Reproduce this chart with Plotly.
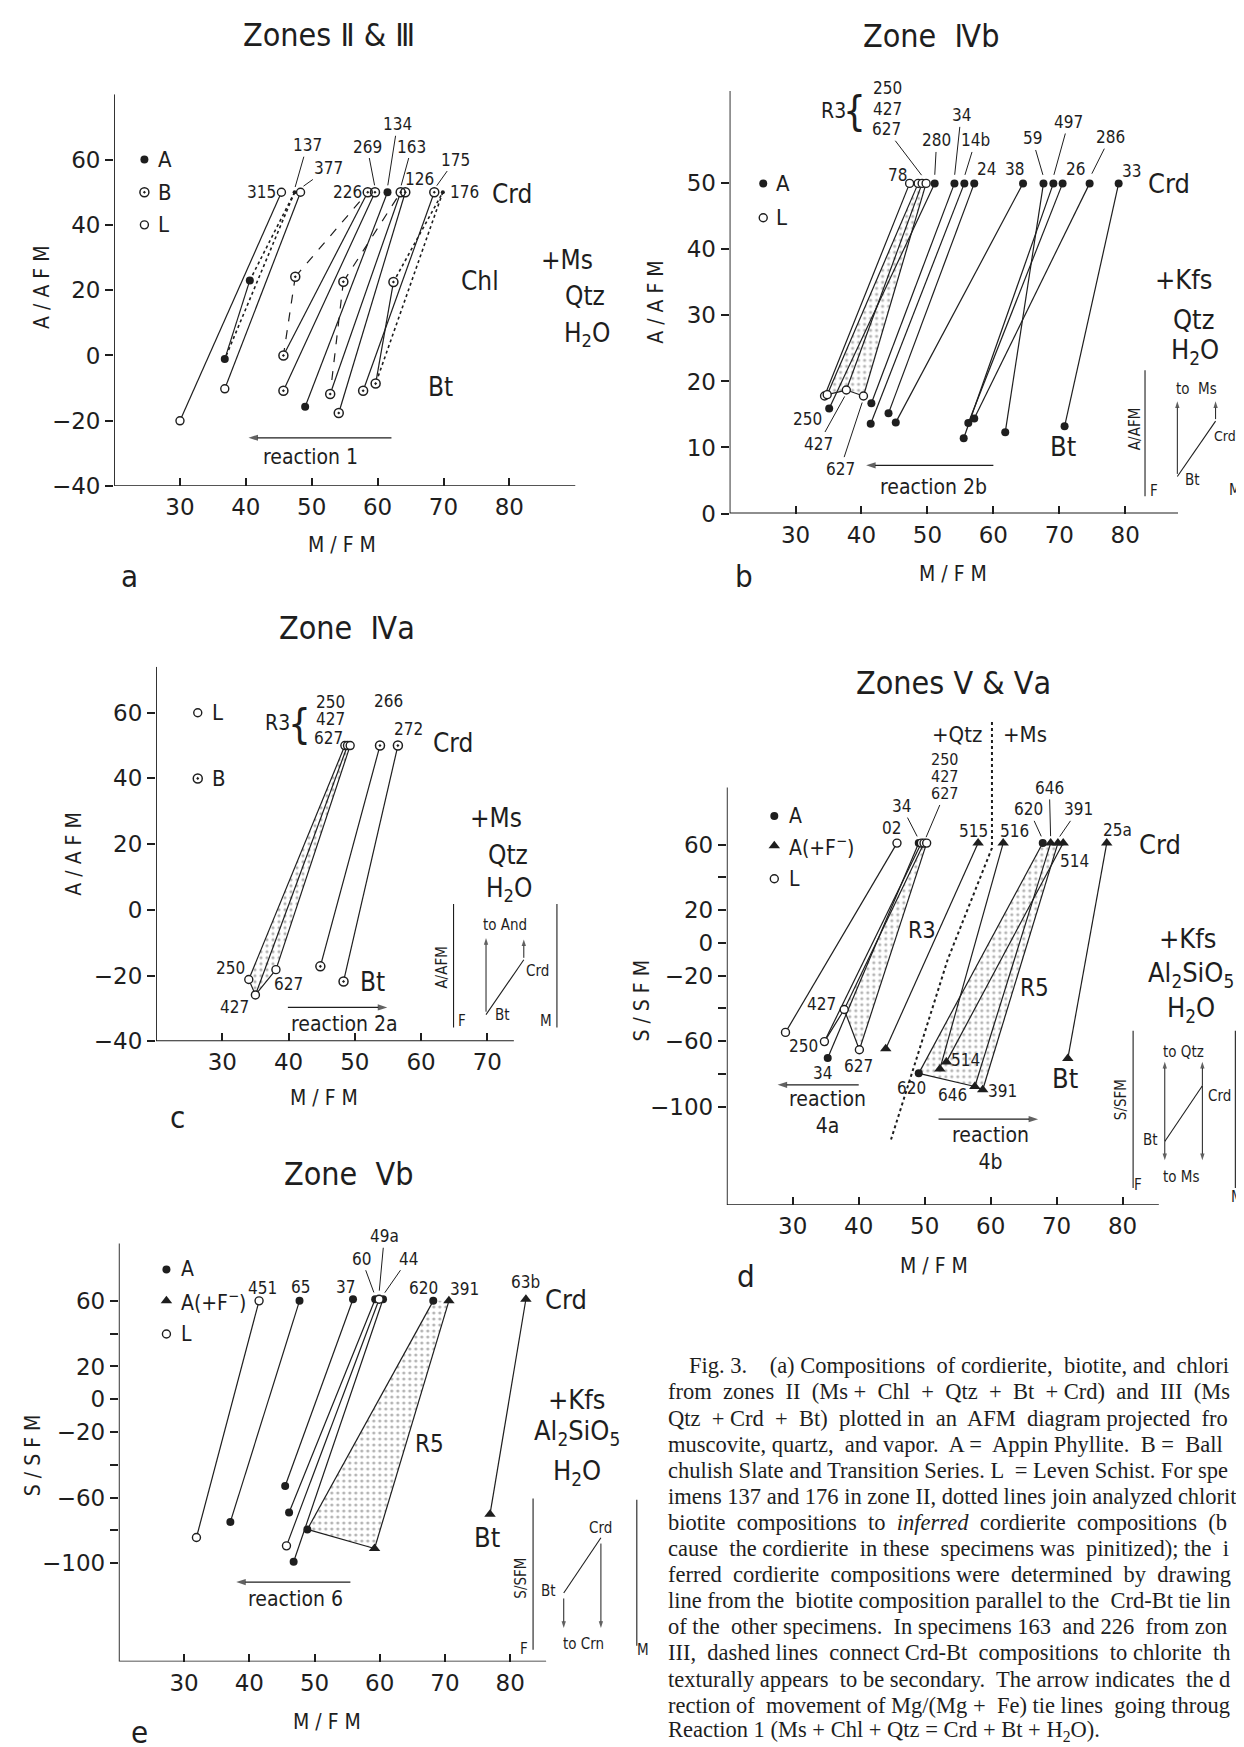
import re
import plotly.graph_objects as go

W, H = 1244, 1747
INK = "#1e1e1e"
LET = "Liberation Sans Narrow, DejaVu Sans Condensed, Arial Narrow, sans-serif"
TICKF = "DejaVu Sans, Liberation Sans, sans-serif"
SERIF = "Liberation Serif, DejaVu Serif, serif"

# ======================= DATA =======================
# ---- Panel a : Zones II & III (A/AFM vs M/FM) ----
a_crd_label = ["315", "137", "377", "226", "269", "134", "163", "126", "175", "176"]
a_crd_x = [45.4, 47.4, 48.3, 58.5, 59.6, 61.5, 63.5, 64.2, 68.6, 69.9]
a_crd_y = [50, 50, 50, 50, 50, 50, 50, 50, 50, 50]
a_crd_kind = ["L", "inf", "L", "B", "B", "A", "B", "B", "B", "inf"]
a_bt_x = [30.0, 36.8, 36.8, 45.7, 45.7, 49.0, 52.8, 54.1, 57.8, 59.7]
a_bt_y = [-20.0, -1.1, -10.2, 0.0, -10.8, -15.7, -11.8, -17.6, -10.8, -8.6]
a_bt_kind = ["L", "A", "L", "B", "B", "A", "B", "B", "B", "B"]
a_tie_dash = ["solid", "dot", "solid", "solid", "solid", "solid", "solid", "solid", "solid", "dot"]
a_chl_of = ["137", "226", "163", "176"]
a_chl_x = [40.6, 47.5, 54.8, 62.4]
a_chl_y = [23.0, 24.1, 22.6, 22.5]
a_chl_kind = ["A", "B", "B", "B"]
a_chl_crd_dash = ["dot", "dash", "dash", "dot"]
a_chl_bt_dash = ["solid", "dash", "dash", "solid"]

# ---- Panel b : Zone IVb ----
b_crd_label = ["78", "250", "427", "627", "280", "34", "14b", "24", "38", "59", "497", "26", "286", "33"]
b_crd_x = [47.3, 48.6, 49.2, 49.8, 51.1, 54.1, 55.6, 57.1, 64.5, 67.6, 69.1, 70.5, 74.6, 79.0]
b_crd_y = [50, 50, 50, 50, 50, 50, 50, 50, 50, 50, 50, 50, 50, 50]
b_kind = ["L", "L", "L", "L", "A", "A", "A", "A", "A", "A", "A", "A", "A", "A"]
b_bt_x = [34.4, 34.8, 37.7, 40.3, 35.1, 41.5, 41.4, 44.1, 45.2, 61.8, 55.5, 56.2, 57.1, 70.8]
b_bt_y = [17.8, 18.0, 18.7, 17.8, 15.9, 16.7, 13.6, 15.2, 13.8, 12.3, 11.4, 13.7, 14.4, 13.2]
b_r3 = ["250", "427", "627"]

# ---- Panel c : Zone IVa ----
c_crd_label = ["250", "427", "627", "266", "272"]
c_crd_x = [48.5, 48.9, 49.3, 53.8, 56.5]
c_crd_y = [50, 50, 50, 50, 50]
c_kind = ["L", "L", "L", "B", "B"]
c_bt_x = [34.0, 35.0, 38.1, 44.8, 48.3]
c_bt_y = [-21.2, -25.9, -18.2, -17.2, -21.8]
c_r3 = ["250", "427", "627"]

# ---- Panel d : Zones V & Va (S/SFM vs M/FM) ----
d_crd_label = ["02", "34", "250", "427", "627", "515", "516", "620", "646", "391", "514", "25a"]
d_crd_x = [45.8, 49.1, 49.5, 49.9, 50.3, 58.1, 61.9, 67.9, 69.1, 70.2, 71.0, 77.6]
d_crd_y = [61, 61, 61, 61, 61, 61, 61, 61, 61, 61, 61, 61]
d_kind = ["L", "A", "L", "L", "L", "F", "F", "A", "F", "F", "F", "F"]
d_bt_x = [28.9, 35.3, 34.8, 37.8, 40.1, 44.1, 52.3, 49.1, 57.6, 58.8, 53.3, 71.7]
d_bt_y = [-54.6, -70.2, -60.2, -40.6, -65.2, -64.6, -77.0, -79.6, -87.6, -89.6, -72.6, -70.6]
d_r3 = ["250", "427", "627"]
d_r5 = ["620", "646", "391"]
d_sep_x = [60.2, 60.2, 53.5, 44.9]
d_sep_y = [135, 58, -10, -120]

# ---- Panel e : Zone Vb ----
e_crd_label = ["451", "65", "37", "60", "49a", "44", "620", "391", "63b"]
e_crd_x = [41.5, 47.7, 55.9, 59.3, 59.9, 60.5, 68.2, 70.6, 82.4]
e_crd_y = [60, 60, 61, 61, 61, 61, 60, 60, 61]
e_kind = ["L", "A", "A", "A", "L", "A", "A", "F", "F"]
e_bt_x = [31.9, 37.1, 45.5, 46.1, 45.7, 46.8, 48.9, 59.2, 76.9]
e_bt_y = [-84.3, -74.8, -52.9, -69.1, -89.4, -99.1, -79.4, -91.0, -70.1]
e_r5 = ["620", "391"]

# tick values
afm_x_ticks = [30, 40, 50, 60, 70, 80]
a_y_ticks = [60, 40, 20, 0, -20, -40]
b_y_ticks = [50, 40, 30, 20, 10, 0]
c_x_ticks = [30, 40, 50, 60, 70]
c_y_ticks = [60, 40, 20, 0, -20, -40]
s_y_ticks = [60, 40, 20, 0, -20, -40, -60, -80, -100]
s_y_text = ["60", "", "20", "0", "\u221220", "", "\u221260", "", "\u2212100"]

caption_lines = [
    "Fig. 3.   (a) Compositions of cordierite, biotite, and chlori",
    "from zones II (Ms + Chl + Qtz + Bt + Crd) and III (Ms",
    "Qtz + Crd + Bt) plotted in an AFM diagram projected fro",
    "muscovite, quartz, and vapor. A = Appin Phyllite. B = Ball",
    "chulish Slate and Transition Series. L = Leven Schist. For spe",
    "imens 137 and 176 in zone II, dotted lines join analyzed chlorit",
    "biotite compositions to <i>inferred</i> cordierite compositions (b",
    "cause the cordierite in these specimens was pinitized); the i",
    "ferred cordierite compositions were determined by drawing",
    "line from the biotite composition parallel to the Crd-Bt tie lin",
    "of the other specimens. In specimens 163 and 226 from zon",
    "III, dashed lines connect Crd-Bt compositions to chlorite th",
    "texturally appears to be secondary. The arrow indicates the d",
    "rection of movement of Mg/(Mg + Fe) tie lines going throug",
    "Reaction 1 (Ms + Chl + Qtz = Crd + Bt + H<sub>2</sub>O).",
]

# ======================= LAYOUT GEOMETRY =======================
GEOM = {
    "a": dict(xv=20, xp=106.1, xs=6.588, xr=(20, 97), yv=60, yp=152.7, ys=3.29, yr=(-40, 80), xend=90, ytop=80),
    "b": dict(xv=20, xp=721.6, xs=6.594, xr=(20, 99), yv=0, yp=509.3, ys=6.652, yr=(0, 70), xend=88, ytop=64),
    "c": dict(xv=20, xp=148.0, xs=6.627, xr=(20, 82), yv=-40, yp=1041, ys=3.31, yr=(-40, 74), xend=74, ytop=74),
    "d": dict(xv=20, xp=718.8, xs=6.596, xr=(20, 99), yv=-160, yp=1206, ys=1.65, yr=(-160, 140), xend=85.5, ytop=95),
    "e": dict(xv=20, xp=110.8, xs=6.524, xr=(20, 103), yv=-160, yp=1666, ys=1.652, yr=(-160, 102), xend=85.5, ytop=95),
}
PANELS = ["a", "b", "c", "d", "e"]


def axid(p):
    i = PANELS.index(p) + 1
    return ("x" if i == 1 else f"x{i}"), ("y" if i == 1 else f"y{i}")


fig = go.Figure()
ANN = []

MK = {
    "A": dict(symbol="circle", size=8, color=INK, line=dict(width=0)),
    "B": dict(symbol="circle-open-dot", size=9, color=INK, line=dict(width=1.5, color=INK)),
    "L": dict(symbol="circle", size=8, color="white", line=dict(width=1.4, color=INK)),
    "F": dict(symbol="triangle-up", size=10, color=INK, line=dict(width=0)),
    "inf": dict(symbol="circle", size=4, color=INK, line=dict(width=0)),
}


def add_points(p, xs, ys, kinds):
    xa, ya = axid(p)
    bx = [x for x, k in zip(xs, kinds) if k == "B"]
    by = [y for y, k in zip(ys, kinds) if k == "B"]
    if bx:
        fig.add_trace(go.Scatter(x=bx, y=by, mode="markers", xaxis=xa, yaxis=ya, hoverinfo="skip",
                                 marker=dict(symbol="circle", size=9, color="white", line=dict(width=0))))
    for k in ["A", "B", "L", "F", "inf"]:
        px = [x for x, kk in zip(xs, kinds) if kk == k]
        py = [y for y, kk in zip(ys, kinds) if kk == k]
        if px:
            fig.add_trace(go.Scatter(x=px, y=py, mode="markers", xaxis=xa, yaxis=ya, hoverinfo="skip",
                                     marker=MK[k], cliponaxis=False))


def add_segments(p, x0s, y0s, x1s, y1s, dash="solid", width=1.2):
    xa, ya = axid(p)
    X, Y = [], []
    for a, b, c, d in zip(x0s, y0s, x1s, y1s):
        X += [a, c, None]
        Y += [b, d, None]
    fig.add_trace(go.Scatter(x=X, y=Y, mode="lines", xaxis=xa, yaxis=ya, hoverinfo="skip",
                             line=dict(color=INK, width=width, dash=dash)))


def add_poly(p, xs, ys, width=1.2, dash="solid"):
    xa, ya = axid(p)
    fig.add_trace(go.Scatter(x=xs, y=ys, mode="lines", xaxis=xa, yaxis=ya, hoverinfo="skip",
                             line=dict(color=INK, width=width, dash=dash)))


def add_stipple(p, xs, ys):
    xa, ya = axid(p)
    fig.add_trace(go.Scatter(x=xs + [xs[0]], y=ys + [ys[0]], mode="lines", fill="toself", xaxis=xa, yaxis=ya,
                             hoverinfo="skip", line=dict(width=0, color="rgba(0,0,0,0)"),
                             fillcolor="white",
                             fillpattern=dict(shape=".", fgcolor="#6a6a6a", bgcolor="white", size=6, solidity=0.22)))


def arrow(p, x0, y0, x1, y1, width=1.3, size=10):
    xa, ya = axid(p)
    fig.add_trace(go.Scatter(x=[x0, x1], y=[y0, y1], mode="lines+markers", xaxis=xa, yaxis=ya, hoverinfo="skip",
                             cliponaxis=False, line=dict(color=INK, width=width),
                             marker=dict(symbol=["circle", "arrow"], size=[0, size], color=INK,
                                         angleref="previous", line=dict(width=0))))


def txt(p, s, x, y, size=17, xanchor="center", yanchor="middle", angle=0, family=LET):
    xa, ya = axid(p)
    ANN.append(dict(text=s, x=x, y=y, xref=xa, yref=ya, showarrow=False, xanchor=xanchor, yanchor=yanchor,
                    textangle=angle, font=dict(family=family, size=size, color=INK)))


def lead(p, s, tx, ty, px, py, size=17):
    xa, ya = axid(p)
    ANN.append(dict(text=s, x=px, y=py, ax=tx, ay=ty, xref=xa, yref=ya, axref=xa, ayref=ya, showarrow=True,
                    arrowhead=0, arrowwidth=1, arrowcolor=INK, standoff=2,
                    font=dict(family=LET, size=size, color=INK)))


def ptxt(s, px, py, size, angle=0, family=LET, xanchor="center"):
    ANN.append(dict(text=s, x=px / W, y=1 - py / H, xref="paper", yref="paper", showarrow=False,
                    xanchor=xanchor, yanchor="middle", textangle=angle,
                    font=dict(family=family, size=size, color=INK)))


def idx(labels, name):
    return labels.index(name)


# Times-compatible advance widths (per 1000 em) used to justify the caption block
_TW = {" ": 250, "(": 333, ")": 333, "+": 564, ",": 250, "-": 333, ".": 250, "/": 278, ":": 278, ";": 278,
       "=": 564, "A": 722, "B": 667, "C": 667, "D": 722, "E": 611, "F": 556, "G": 722, "H": 722, "I": 333,
       "J": 389, "K": 722, "L": 611, "M": 889, "N": 722, "O": 722, "P": 556, "Q": 722, "R": 667, "S": 556,
       "T": 611, "U": 722, "V": 722, "W": 944, "X": 722, "Y": 722, "Z": 611, "a": 444, "b": 500, "c": 444,
       "d": 500, "e": 444, "f": 333, "g": 500, "h": 500, "i": 278, "j": 278, "k": 500, "l": 278, "m": 778,
       "n": 500, "o": 500, "p": 500, "q": 500, "r": 333, "s": 389, "t": 278, "u": 500, "v": 500, "w": 722,
       "x": 500, "y": 500, "z": 444}


def justify(line, size, avail):
    plain = re.sub(r"<[^>]+>", "", line)
    w = 1.035 * sum(_TW.get(ch, 500) for ch in plain) * size / 1000.0
    sp = 1.035 * 250 * size / 1000.0
    n = int((avail - w) / sp)
    parts = re.split(r"( +)", line)
    gaps = [i for i, t in enumerate(parts) if t.startswith(" ")]
    if n <= 0 or not gaps:
        return line
    for j in range(n):
        parts[gaps[(j * len(gaps)) // n if n >= len(gaps) else int((j + 0.5) * len(gaps) / n)]] += " "
    return "".join(parts)


# ======================= PANEL a =======================
p = "a"
sol = [i for i in range(10) if a_tie_dash[i] == "solid"]
dot = [i for i in range(10) if a_tie_dash[i] == "dot"]
add_segments(p, [a_crd_x[i] for i in sol], [a_crd_y[i] for i in sol], [a_bt_x[i] for i in sol], [a_bt_y[i] for i in sol])
add_segments(p, [a_crd_x[i] for i in dot], [a_crd_y[i] for i in dot], [a_bt_x[i] for i in dot], [a_bt_y[i] for i in dot],
             dash="dot", width=1.6)
for j, spec in enumerate(a_chl_of):
    k = idx(a_crd_label, spec)
    add_segments(p, [a_chl_x[j]], [a_chl_y[j]], [a_crd_x[k]], [a_crd_y[k]], dash=a_chl_crd_dash[j],
                 width=1.6 if a_chl_crd_dash[j] == "dot" else 1.2)
    add_segments(p, [a_chl_x[j]], [a_chl_y[j]], [a_bt_x[k]], [a_bt_y[k]], dash=a_chl_bt_dash[j])
add_points(p, a_crd_x, a_crd_y, a_crd_kind)
add_points(p, a_bt_x, a_bt_y, a_bt_kind)
add_points(p, a_chl_x, a_chl_y, a_chl_kind)
add_points(p, [24.6, 24.6, 24.6], [60, 50, 40], ["A", "B", "L"])
for s, yy in zip(["A", "B", "L"], [60, 50, 40]):
    txt(p, s, 26.4, yy, size=22, xanchor="left")
for s, tx, ty, px_, py_ in [("137", 49.3, 64.4, 47.4, 51), ("377", 52.6, 57.4, 48.5, 51.5),
                            ("269", 58.4, 64.0, 59.6, 51.5), ("134", 63.0, 70.8, 61.5, 51.5),
                            ("163", 65.2, 64.0, 63.5, 51.5), ("175", 71.8, 60.0, 68.8, 51.5)]:
    lead(p, s, tx, ty, px_, py_)
for s, x, y in [("315", 42.4, 50), ("226", 55.5, 50), ("126", 66.4, 54.0), ("176", 73.2, 50.2)]:
    txt(p, s, x, y)
for s, x, y in [("Crd", 80.4, 49.5), ("Chl", 75.6, 22.7), ("Bt", 69.6, -9.7),
                ("+Ms", 88.8, 29.3), ("Qtz", 91.5, 18.2), ("H<sub>2</sub>O", 91.8, 6.3)]:
    txt(p, s, x, y, size=26)
arrow(p, 62.1, -25.2, 40.4, -25.2)
txt(p, "reaction 1", 49.8, -31.0, size=21)

# ======================= PANEL b =======================
p = "b"
r3i = [idx(b_crd_label, s) for s in b_r3]
add_stipple(p, [b_crd_x[r3i[0]]] + [b_bt_x[i] for i in r3i] + [b_crd_x[r3i[2]]],
            [b_crd_y[r3i[0]]] + [b_bt_y[i] for i in r3i] + [b_crd_y[r3i[2]]])
add_segments(p, b_crd_x, b_crd_y, b_bt_x, b_bt_y)
add_poly(p, [b_bt_x[i] for i in r3i], [b_bt_y[i] for i in r3i])
add_points(p, b_crd_x, b_crd_y, b_kind)
add_points(p, b_bt_x, b_bt_y, b_kind)
add_points(p, [25.1, 25.1], [50, 44.8], ["A", "L"])
for s, yy in zip(["A", "L"], [50, 44.8]):
    txt(p, s, 26.8, yy, size=22, xanchor="left")
txt(p, "R3", 35.8, 61.0, size=21)
txt(p, "{", 38.9, 61.0, size=40)
txt(p, "250", 44.0, 64.4)
txt(p, "427", 44.0, 61.3)
lead(p, "627", 43.8, 58.2, 49.3, 51)
for s, tx, ty, px_, py_ in [("280", 51.4, 56.5, 51.1, 51), ("34", 55.1, 60.3, 54.1, 51),
                            ("14b", 57.3, 56.5, 55.6, 51), ("59", 65.9, 56.8, 67.6, 51),
                            ("497", 71.4, 59.3, 69.1, 51), ("286", 77.7, 57.0, 74.8, 51.2)]:
    lead(p, s, tx, ty, px_, py_)
for s, x, y in [("78", 45.4, 51.3), ("24", 58.9, 52.2), ("38", 63.2, 52.2), ("26", 72.4, 52.2),
                ("33", 81.0, 51.9), ("250", 31.8, 14.3)]:
    txt(p, s, x, y)
lead(p, "427", 33.5, 10.6, 37.6, 18.0)
lead(p, "627", 36.8, 6.8, 40.2, 17.1)
for s, x, y in [("Crd", 86.6, 50.0), ("+Kfs", 88.8, 35.5), ("Qtz", 90.3, 29.4),
                ("H<sub>2</sub>O", 90.6, 24.5), ("Bt", 70.5, 10.1)]:
    txt(p, s, x, y, size=27)
arrow(p, 60.0, 7.3, 40.7, 7.3)
txt(p, "reaction 2b", 50.9, 4.0, size=21)
# inset
add_segments(p, [83.0, 98.5, 87.9], [2.6, 2.6, 5.6], [83.0, 98.5, 93.7], [21.7, 21.7, 14.0], width=1.1)
arrow(p, 87.9, 6.0, 87.9, 17.0, width=1.0, size=7)
arrow(p, 93.7, 14.3, 93.7, 17.0, width=1.0, size=7)
txt(p, "A/AFM", 81.5, 12.8, size=15, angle=-90)
txt(p, "F", 84.3, 3.4, size=15)
txt(p, "M", 96.6, 3.6, size=15)
txt(p, "Bt", 90.2, 5.1, size=15)
txt(p, "Crd", 95.1, 11.8, size=14)
txt(p, "to  Ms", 90.8, 18.9, size=15)

# ======================= PANEL c =======================
p = "c"
r3i = [idx(c_crd_label, s) for s in c_r3]
add_stipple(p, [c_crd_x[r3i[0]]] + [c_bt_x[i] for i in r3i] + [c_crd_x[r3i[2]]],
            [c_crd_y[r3i[0]]] + [c_bt_y[i] for i in r3i] + [c_crd_y[r3i[2]]])
add_segments(p, c_crd_x, c_crd_y, c_bt_x, c_bt_y)
add_poly(p, [c_bt_x[i] for i in r3i], [c_bt_y[i] for i in r3i])
add_points(p, c_crd_x, c_crd_y, c_kind)
add_points(p, c_bt_x, c_bt_y, c_kind)
add_points(p, [26.3, 26.3], [60, 40], ["L", "B"])
for s, yy in zip(["L", "B"], [60, 40]):
    txt(p, s, 28.2, yy, size=22, xanchor="left")
txt(p, "R3", 38.3, 56.9, size=21)
txt(p, "{", 41.7, 56.6, size=40)
for s, x, y in [("250", 46.3, 63.3), ("427", 46.3, 58.0), ("627", 46.1, 52.4), ("266", 55.1, 63.6),
                ("272", 58.1, 55.1), ("250", 31.2, -17.8), ("627", 40.0, -22.5), ("427", 31.8, -29.7)]:
    txt(p, s, x, y)
for s, x, y in [("Crd", 64.8, 50.8), ("+Ms", 71.3, 28.0), ("Qtz", 73.1, 16.6),
                ("H<sub>2</sub>O", 73.2, 6.1), ("Bt", 52.6, -22.0)]:
    txt(p, s, x, y, size=26)
arrow(p, 39.9, -29.7, 54.9, -29.7)
txt(p, "reaction 2a", 48.4, -34.8, size=21)
add_segments(p, [64.9, 80.5, 69.8], [1.8, 1.8, -31.9], [64.9, 80.5, 75.5], [-35.8, -35.8, -15.2], width=1.1)
arrow(p, 69.8, -31.0, 69.8, -8.6, width=1.0, size=7)
arrow(p, 75.5, -14.6, 75.5, -9.0, width=1.0, size=7)
txt(p, "A/AFM", 63.2, -17.5, size=15, angle=-90)
txt(p, "F", 66.1, -33.9, size=15)
txt(p, "Bt", 72.3, -32.0, size=15)
txt(p, "Crd", 77.5, -18.6, size=15)
txt(p, "to And", 72.6, -4.7, size=15)
txt(p, "M", 78.9, -33.9, size=15)

# ======================= PANEL d =======================
p = "d"
r3i = [idx(d_crd_label, s) for s in d_r3]
r5i = [idx(d_crd_label, s) for s in d_r5]
add_stipple(p, [d_crd_x[r3i[1]], d_bt_x[r3i[1]], d_bt_x[r3i[2]], d_crd_x[r3i[2]]],
            [d_crd_y[r3i[1]], d_bt_y[r3i[1]], d_bt_y[r3i[2]], d_crd_y[r3i[2]]])
add_stipple(p, [d_crd_x[r5i[0]]] + [d_bt_x[i] for i in r5i] + [d_crd_x[r5i[2]]],
            [d_crd_y[r5i[0]]] + [d_bt_y[i] for i in r5i] + [d_crd_y[r5i[2]]])
add_poly(p, d_sep_x, d_sep_y, width=2.0, dash="dot")
add_segments(p, d_crd_x, d_crd_y, d_bt_x, d_bt_y)
add_poly(p, [d_bt_x[i] for i in r3i], [d_bt_y[i] for i in r3i])
add_poly(p, [d_bt_x[i] for i in r5i], [d_bt_y[i] for i in r5i])
add_points(p, d_crd_x, d_crd_y, d_kind)
add_points(p, d_bt_x, d_bt_y, d_kind)
add_points(p, [27.2, 27.2, 27.2], [77.6, 59.4, 39.2], ["A", "F", "L"])
for s, yy in zip(["A", "A(+F<sup>\u2212</sup>)", "L"], [77.6, 59.4, 39.2]):
    txt(p, s, 29.2, yy, size=21, xanchor="left")
txt(p, "+Qtz", 59.0, 127, size=22, xanchor="right")
txt(p, "+Ms", 61.5, 127, size=22, xanchor="left")
txt(p, "250", 53.0, 112.0, size=16)
txt(p, "427", 53.0, 101.5, size=16)
lead(p, "627", 53.0, 91.0, 50.1, 63.5, size=16)
lead(p, "34", 46.5, 83.6, 49.0, 64)
lead(p, "646", 68.9, 94.7, 69.1, 64)
lead(p, "620", 65.8, 81.6, 67.8, 64)
lead(p, "391", 73.3, 81.6, 70.3, 64)
for s, x, y in [("02", 45.0, 70.0), ("515", 57.4, 68.5), ("516", 63.6, 68.5), ("514", 72.7, 50.3),
                ("25a", 79.2, 69.0), ("427", 34.4, -37.4), ("250", 31.6, -63.2), ("34", 34.5, -79.6),
                ("627", 40.0, -75.2), ("620", 48.0, -88.6), ("646", 54.2, -92.6), ("391", 61.8, -90.6),
                ("514", 56.2, -71.6)]:
    txt(p, s, x, y)
txt(p, "R3", 49.6, 8.0, size=23)
txt(p, "R5", 66.7, -27.4, size=24)
for s, x, y in [("Crd", 85.6, 60.0), ("+Kfs", 89.8, 2.8), ("Al<sub>2</sub>SiO<sub>5</sub>", 90.4, -19.4),
                ("H<sub>2</sub>O", 90.4, -40.4), ("Bt", 71.3, -82.6)]:
    txt(p, s, x, y, size=27)
arrow(p, 40.0, -86.6, 27.7, -86.6)
txt(p, "reaction<br>4a", 35.3, -103.6, size=21)
arrow(p, 52.1, -107.6, 67.2, -107.6)
txt(p, "reaction<br>4b", 60.0, -125.6, size=21)
add_segments(p, [81.6, 97.1, 86.4], [-53.6, -53.6, -121.2], [81.6, 97.1, 92.1], [-149.6, -149.6, -87.2], width=1.1)
arrow(p, 86.4, -121.2, 86.4, -72.5, width=1.0, size=7)
arrow(p, 86.4, -121.2, 86.4, -132.6, width=1.0, size=7)
arrow(p, 92.1, -87.2, 92.1, -72.5, width=1.0, size=7)
arrow(p, 92.1, -87.2, 92.1, -132.6, width=1.0, size=7)
txt(p, "S/SFM", 79.7, -95.6, size=15, angle=-90)
txt(p, "F", 82.4, -147.6, size=15)
txt(p, "Bt", 84.3, -120.0, size=15)
txt(p, "Crd", 94.7, -93.6, size=15)
txt(p, "to Qtz", 89.2, -66.6, size=15)
txt(p, "to Ms", 89.0, -142.6, size=15)
txt(p, "M", 97.4, -155.0, size=15)

# ======================= PANEL e =======================
p = "e"
r5i = [idx(e_crd_label, s) for s in e_r5]
add_stipple(p, [e_crd_x[r5i[0]], e_bt_x[r5i[0]], e_bt_x[r5i[1]], e_crd_x[r5i[1]]],
            [e_crd_y[r5i[0]], e_bt_y[r5i[0]], e_bt_y[r5i[1]], e_crd_y[r5i[1]]])
add_segments(p, e_crd_x, e_crd_y, e_bt_x, e_bt_y)
add_poly(p, [e_bt_x[i] for i in r5i], [e_bt_y[i] for i in r5i])
add_points(p, e_crd_x, e_crd_y, e_kind)
add_points(p, e_bt_x, e_bt_y, e_kind)
add_points(p, [27.3, 27.3, 27.3], [79.2, 60.0, 39.8], ["A", "F", "L"])
for s, yy in zip(["A", "A(+F<sup>\u2212</sup>)", "L"], [79.2, 60.0, 39.8]):
    txt(p, s, 29.3, yy, size=21, xanchor="left")
for s, x, y in [("451", 42.0, 68.0), ("65", 47.9, 68.5), ("37", 54.7, 68.5), ("620", 66.7, 68.0),
                ("391", 73.0, 67.5), ("63b", 82.4, 71.5)]:
    txt(p, s, x, y)
lead(p, "60", 57.2, 85.7, 59.2, 64)
lead(p, "49a", 60.7, 99.4, 59.9, 65)
lead(p, "44", 64.4, 85.7, 60.6, 64)
txt(p, "R5", 67.6, -27.5, size=24)
for s, x, y in [("Crd", 88.6, 61.0), ("+Kfs", 90.2, 0.0), ("Al<sub>2</sub>SiO<sub>5</sub>", 90.3, -20.4),
                ("H<sub>2</sub>O", 90.3, -44.7), ("Bt", 76.4, -84.6)]:
    txt(p, s, x, y, size=27)
arrow(p, 55.5, -111.5, 38.0, -111.5)
txt(p, "reaction 6", 47.1, -121.8, size=21)
add_segments(p, [83.5, 99.4, 88.2], [-60.6, -61.3, -118.2], [83.5, 99.4, 93.9], [-152.7, -150.3, -84.5], width=1.1)
arrow(p, 88.2, -121.5, 88.2, -139.5, width=1.0, size=7)
arrow(p, 93.9, -88.0, 93.9, -139.5, width=1.0, size=7)
txt(p, "S/SFM", 81.6, -109.0, size=15, angle=-90)
txt(p, "F", 82.1, -152.5, size=15)
txt(p, "Bt", 85.9, -117.0, size=15)
txt(p, "Crd", 93.8, -78.3, size=15)
txt(p, "to Crn", 91.2, -149.0, size=15)
txt(p, "M", 100.3, -152.7, size=15)

# ======================= AXES & SPINES =======================
TICKS = {
    "a": (afm_x_ticks, [str(v) for v in afm_x_ticks], a_y_ticks, [str(v).replace("-", "\u2212") for v in a_y_ticks]),
    "b": (afm_x_ticks, [str(v) for v in afm_x_ticks], b_y_ticks, [str(v) for v in b_y_ticks]),
    "c": (c_x_ticks, [str(v) for v in c_x_ticks], c_y_ticks, [str(v).replace("-", "\u2212") for v in c_y_ticks]),
    "d": (afm_x_ticks, [str(v) for v in afm_x_ticks], s_y_ticks, s_y_text),
    "e": (afm_x_ticks, [str(v) for v in afm_x_ticks], s_y_ticks, s_y_text),
}
lay = {}
for i, p in enumerate(PANELS, start=1):
    g = GEOM[p]
    xa, ya = axid(p)
    x0 = g["xp"] + (g["xr"][0] - g["xv"]) * g["xs"]
    x1 = g["xp"] + (g["xr"][1] - g["xv"]) * g["xs"]
    yb = g["yp"] - (g["yr"][0] - g["yv"]) * g["ys"]
    yt = g["yp"] - (g["yr"][1] - g["yv"]) * g["ys"]
    xv, xt, yv, yt_ = TICKS[p]
    kx = "xaxis" if i == 1 else f"xaxis{i}"
    ky = "yaxis" if i == 1 else f"yaxis{i}"
    lay[kx] = dict(domain=[x0 / W, min(x1 / W, 1.0)], range=list(g["xr"]), anchor=ya, showline=False, showgrid=False,
                   zeroline=False, ticks="inside", ticklen=8, tickwidth=1.5, tickcolor=INK,
                   tickmode="array", tickvals=xv, ticktext=xt, ticklabelstandoff=5,
                   tickfont=dict(family=TICKF, size=23, color=INK), fixedrange=True)
    lay[ky] = dict(domain=[1 - yb / H, 1 - yt / H], range=list(g["yr"]), anchor=xa, showline=False,
                   showgrid=False, zeroline=False, ticks="outside", ticklen=8, tickwidth=1.5, tickcolor=INK,
                   tickmode="array", tickvals=yv, ticktext=yt_,
                   tickfont=dict(family=TICKF, size=23, color=INK), fixedrange=True)
    fig.add_trace(go.Scatter(x=[g["xend"], g["xr"][0], g["xr"][0]], y=[g["yr"][0], g["yr"][0], g["ytop"]],
                             mode="lines", xaxis=xa, yaxis=ya, hoverinfo="skip",
                             line=dict(color=INK, width=1.8)))

# titles, panel letters, axis titles (paper pixel positions)
for s, x, y in [("Zones \u2161 &amp; \u2162", 321, 27), ("Zone  \u2163b", 923, 28), ("Zone  \u2163a", 339, 625),
                ("Zones \u2164 &amp; \u2164a", 945, 680), ("Zone  \u2164b", 341, 1175)]:
    ptxt(s, x, y, 32)
for s, x, y in [("a", 121, 572), ("b", 736, 572), ("c", 169, 1117), ("d", 738, 1278), ("e", 131, 1737)]:
    ptxt(s, x, y, 31)
for s, x, y, ang in [("A / A F M", 34, 282, -90), ("M / F M", 334, 541, 0), ("A / A F M", 648, 297, -90),
                     ("M / F M", 945, 570, 0), ("A / A F M", 66, 853, -90), ("M / F M", 316, 1098, 0),
                     ("S / S F M", 634, 1000, -90), ("M / F M", 926, 1267, 0), ("S / S F M", 25, 1458, -90),
                     ("M / F M", 319, 1727, 0)]:
    ptxt(s, x, y, 21, angle=ang)

CAP_SIZE = 22.5
for k, line in enumerate(caption_lines):
    left = 679 if k == 0 else 658
    shown = justify(line, CAP_SIZE, W - left - 2) if k < len(caption_lines) - 1 else line
    ptxt(shown, left, 1368.0 + k * 26.3, CAP_SIZE, family=SERIF, xanchor="left")

fig.update_layout(width=W, height=H, margin=dict(l=0, r=0, t=0, b=0), paper_bgcolor="white",
                  plot_bgcolor="rgba(0,0,0,0)", showlegend=False, annotations=ANN, **lay)
fig.write_html("out.html")
